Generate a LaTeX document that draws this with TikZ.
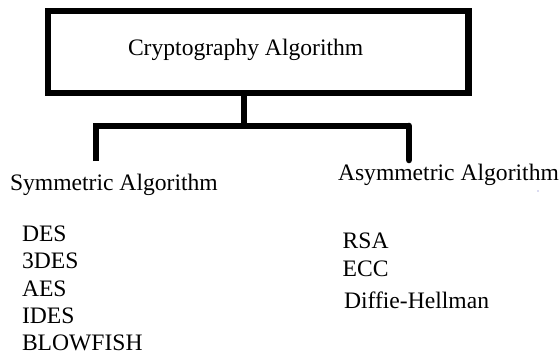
\documentclass[tikz,border=0pt]{standalone}
\usepackage{fontspec}
\setmainfont{Liberation Serif}
\begin{document}
\begin{tikzpicture}[x=1pt,y=-1pt,
  every node/.style={inner sep=0pt,outer sep=0pt},
  txt/.style={anchor=base west,font=\fontsize{23.6}{28}\selectfont,text=black},
  thick line/.style={line width=6.6pt,draw=black},
  box/.style={thick line,minimum width=420.5pt,minimum height=82pt}]
\useasboundingbox (0,0) rectangle (560,356);

% root box and its label
\node[box] (root) at (258.25,52) {};
\node[txt] (rootlabel) at (128,55) {Cryptography Algorithm};

% branch points
\coordinate (stemtop) at (244,93);
\coordinate (stembot) at (244,126);
\coordinate (barL) at (96,126);
\coordinate (barR) at (409,126);
\coordinate (legL) at (96,161);
\coordinate (legR) at (409,160);

\draw[thick line] (stemtop) -- (stembot);
\draw[thick line,line join=miter] (legL) -- (barL) -- (barR);
\draw[thick line,line cap=round,line join=round] (barR) -- (legR);

% branch headings
\node[txt] (sym) at (10,190) {Symmetric Algorithm};
\node[txt] (asym) at (338,180.7) {Asymmetric Algorithm};

% symmetric algorithms
\node[txt] (des) at (22,241.7) {DES};
\node[txt] (tdes) at (22,268.5) {3DES};
\node[txt] (aes) at (22,296) {AES};
\node[txt] (ides) at (22,323) {IDES};
\node[txt] (blow) at (22,350.5) {BLOWFISH};

% asymmetric algorithms
\node[txt] (rsa) at (342.7,248) {RSA};
\node[txt] (ecc) at (342.7,276) {ECC};
\node[txt] (dh) at (344,308) {Diffie-Hellman};

% small speck to the right of the asymmetric heading
\fill[black!40!blue!60] (538,191) circle (0.7pt);
\end{tikzpicture}
\end{document}
